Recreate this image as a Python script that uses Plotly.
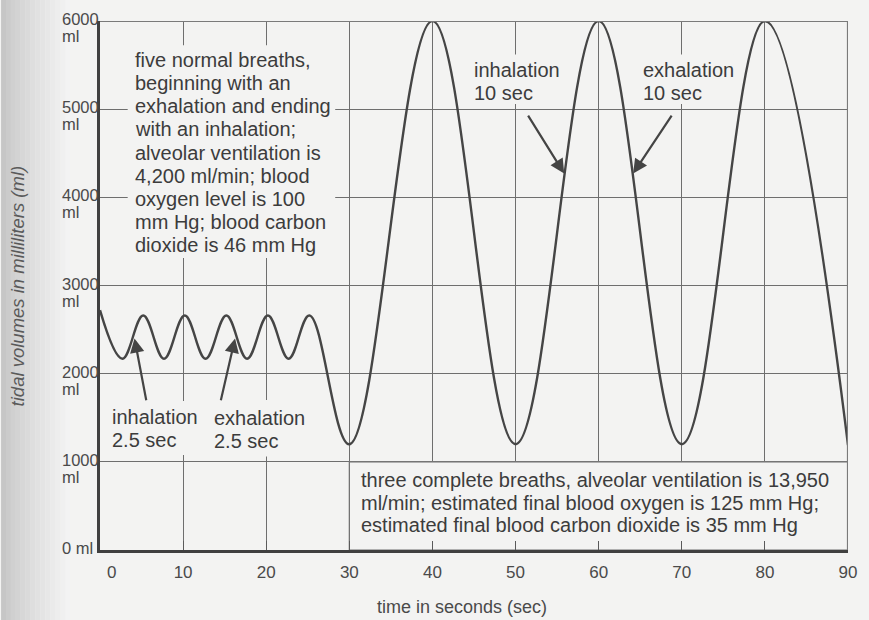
import plotly.graph_objects as go

# ---------------- data ----------------
time_s = [0, 2.7, 5.2, 7.7, 10.2, 12.7, 15.2, 17.7, 20.2, 22.7, 25.2,
          30, 40, 50, 60, 70, 80, 90]
volume_ml = [2720, 2170, 2660, 2170, 2660, 2170, 2660, 2170, 2660, 2170, 2660,
             1200, 6000, 1200, 6000, 1200, 6000, 1190]

x_ticks = [0, 10, 20, 30, 40, 50, 60, 70, 80, 90]
x_tick_text = ["\u00a0\u00a0\u00a0\u00a0\u00a00", "10", "20", "30", "40", "50", "60", "70", "80", "90"]
y_ticks = [0, 1000, 2000, 3000, 4000, 5000, 6000]
y_tick_num = ["0 ml", "1000", "2000", "3000", "4000", "5000", "6000"]
y_tick_unit = ["", "ml", "ml", "ml", "ml", "ml", "ml"]

x_title = "time in seconds (sec)"
y_title = "tidal volumes in milliliters (ml)"

note_normal = ["five normal breaths,", "beginning with an", "exhalation and ending",
               "with an inhalation;", "alveolar ventilation is", "4,200 ml/min; blood",
               "oxygen level is 100", "mm Hg; blood carbon", "dioxide is 46 mm Hg"]
note_deep = ["three complete breaths, alveolar ventilation is 13,950",
             "ml/min; estimated final blood oxygen is 125 mm Hg;",
             "estimated final blood carbon dioxide is 35 mm Hg"]
label_inh_small = ["inhalation", "2.5 sec"]
label_exh_small = ["exhalation", "2.5 sec"]
label_inh_big = ["inhalation", "10 sec"]
label_exh_big = ["exhalation", "10 sec"]

# ---------------- styling ----------------
BG = "#f3f3f2"
GRID = "#6e6e6e"
INK = "#3c3c3c"
FONT = "Liberation Sans, Arial, sans-serif"

W, H = 869, 620
ML, MR, MT, MB = 100, 13, 21, 70
PW = W - ML - MR
PH = H - MT - MB

fig = go.Figure()
fig.add_trace(go.Scatter(
    x=time_s, y=volume_ml, mode="lines",
    line=dict(color="#454545", width=2.4, shape="spline", smoothing=1.1),
    hoverinfo="skip", showlegend=False))

shapes = []
# scan shadow on the left edge
n_strip = 14
for i in range(n_strip):
    px0 = i * 5
    px1 = px0 + 5
    g = int(0xc6 + (0xf3 - 0xc6) * (i / (n_strip - 1)) ** 0.8)
    shapes.append(dict(type="rect", xref="paper", yref="paper",
                       x0=(px0 - ML) / PW, x1=(px1 - ML) / PW, y0=-0.2, y1=1.1,
                       fillcolor=f"rgb({g},{g},{g})", line=dict(width=0), layer="below"))

def bg_rect(x0, x1, y0, y1, border=False):
    shapes.append(dict(type="rect", xref="x", yref="y", x0=x0, x1=x1, y0=y0, y1=y1,
                       fillcolor=BG,
                       line=dict(color=GRID, width=1.2) if border else dict(width=0),
                       layer="between"))

bg_rect(3.33, 28.3, 3311, 5726)          # five normal breaths box
bg_rect(30, 90, 0, 1000, border=True)   # three complete breaths box
bg_rect(44.8, 55.6, 5060, 5620)         # inhalation 10 sec
bg_rect(65.0, 76.2, 5060, 5620)         # exhalation 10 sec
bg_rect(1.0, 11.6, 1077, 1690)          # inhalation 2.5 sec
bg_rect(13.0, 24.6, 1060, 1700)         # exhalation 2.5 sec

# frame top and right
shapes.append(dict(type="line", xref="x", yref="y", x0=0, x1=90, y0=6000, y1=6000,
                   line=dict(color="#7a7a7a", width=2.2), layer="above"))
shapes.append(dict(type="line", xref="x", yref="y", x0=90, x1=90, y0=0, y1=6000,
                   line=dict(color="#7a7a7a", width=2.2), layer="above"))

ann = []

def text_block(lines, x, y, step=23.1, size=20):
    for i, t in enumerate(lines):
        ann.append(dict(x=x, y=y, xref="x", yref="y", text=t, showarrow=False,
                        xanchor="left", yanchor="middle", yshift=-step * i,
                        font=dict(family=FONT, size=size, color=INK)))

text_block(note_normal, 3.95, 5556)
text_block(note_deep, 31.2, 790, step=22.5)
text_block(label_inh_small, 1.19, 1508)
text_block(label_exh_small, 13.45, 1497)
text_block(label_inh_big, 44.8, 5445)
text_block(label_exh_big, 65.1, 5445)

def arrow(hx, hy, tx, ty):
    ann.append(dict(x=hx, y=hy, ax=tx, ay=ty, xref="x", yref="y", axref="x", ayref="y",
                    text="", showarrow=True, arrowhead=2, arrowsize=1.3,
                    arrowwidth=2.2, arrowcolor="#444444", standoff=0))

arrow(55.85, 4270, 51.4, 4944)
arrow(64.15, 4270, 68.9, 4944)
arrow(4.15, 2400, 5.6, 1682)
arrow(16.25, 2400, 14.5, 1682)

# y tick labels (number on the grid line, unit beneath)
for v, num, unit in zip(y_ticks, y_tick_num, y_tick_unit):
    ann.append(dict(x=(60 - ML) / PW, y=v, xref="paper", yref="y", text=num,
                    showarrow=False, xanchor="left", yanchor="middle", yshift=2,
                    font=dict(family=FONT, size=16.5, color="#4a4a4a")))
    if unit:
        ann.append(dict(x=(60 - ML) / PW, y=v, xref="paper", yref="y", text=unit,
                        showarrow=False, xanchor="left", yanchor="middle", yshift=-15,
                        font=dict(family=FONT, size=16.5, color="#4a4a4a")))

# axis titles
ann.append(dict(x=(17 - ML) / PW, y=0.5, xref="paper", yref="paper", text=y_title,
                showarrow=False, textangle=-90, xanchor="center", yanchor="middle",
                font=dict(family=FONT, size=18.5, color="#5a5a5a", style="italic")))
ann.append(dict(x=(466 - ML) / PW, y=(MT + PH - 607) / PH,
                xref="paper", yref="paper", text=x_title,
                showarrow=False, xanchor="center", yanchor="middle",
                font=dict(family=FONT, size=18, color="#4a4a4a")))

fig.update_layout(
    width=W, height=H, autosize=False,
    margin=dict(l=ML, r=MR, t=MT, b=MB, pad=0),
    paper_bgcolor=BG, plot_bgcolor=BG,
    showlegend=False,
    shapes=shapes, annotations=ann,
    xaxis=dict(range=[0, 90], tickvals=x_ticks, ticktext=x_tick_text,
               showgrid=True, gridcolor=GRID, gridwidth=1.2,
               showline=True, linecolor="#404040", linewidth=3,
               ticks="inside", ticklen=9, tickcolor="#5a5a5a", tickwidth=1.3,
               ticklabelstandoff=5,
               tickfont=dict(family=FONT, size=17, color="#4a4a4a"),
               zeroline=False, fixedrange=True),
    yaxis=dict(range=[0, 6000], tickvals=y_ticks, showticklabels=False,
               showgrid=True, gridcolor=GRID, gridwidth=1.2,
               showline=True, linecolor="#404040", linewidth=3,
               ticks="", zeroline=False, fixedrange=True),
)

fig.write_html("out.html", config={"displayModeBar": False},
               post_script="document.body.style.margin='0';document.body.style.background='" + BG + "';")
